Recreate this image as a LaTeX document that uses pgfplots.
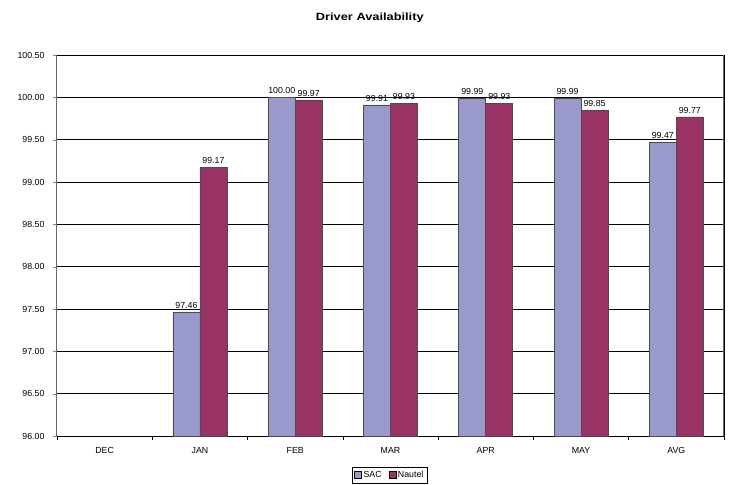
\documentclass[border=0pt]{standalone}
\usepackage{pgfplots}
\pgfplotsset{compat=1.18}
\usepackage{fontspec}
\setmainfont{Liberation Sans}
\newfontfamily\titlefont{Liberation Sans}[FakeStretch=1.22]
\definecolor{sac}{HTML}{9999CC}
\definecolor{nautel}{HTML}{993366}
\begin{document}
\begin{tikzpicture}[x=1pt,y=1pt]
\useasboundingbox (0,0) rectangle (732,485);
\begin{axis}[
  at={(57pt,49pt)}, anchor=south west,
  scale only axis, width=667pt, height=381pt,
  ybar, bar width=27pt,
  xmin=-0.5, xmax=6.5, ymin=96, ymax=100.5,
  xtick={0,...,6}, xticklabels={DEC,JAN,FEB,MAR,APR,MAY,AVG},
  major x tick style={draw=none},
  minor xtick={-0.5,0.5,...,6.5},
  minor x tick style={black, line width=0.5pt},
  ytick={96,96.5,...,100.5},
  ytick pos=left,
  yticklabel style={xshift=-5pt, /pgf/number format/.cd, fixed, fixed zerofill, precision=2},
  /pgf/number format/assume math mode=true,
  tick align=outside, major tick length=4pt, minor tick length=4pt,
  ymajorgrids, grid style={black, line width=0.6pt},
  axis line style={line width=0.6pt},
  axis x line*=bottom,
  separate axis lines,
  y axis line style={gray!80!black, line width=1pt},
  tick label style={font=\fontsize{8.8}{10}\selectfont},
  xticklabel style={yshift=-4pt},
  nodes near coords,
  nodes near coords style={font=\fontsize{8.8}{10}\selectfont, /pgf/number format/.cd, fixed, fixed zerofill, precision=2, assume math mode=true},
  legend style={at={(axis description cs:0.499,-0.102)}, anchor=center, legend columns=2, font=\fontsize{8.8}{10}\selectfont, draw=black, inner sep=2pt, /tikz/every even column/.append style={column sep=5pt}},
  legend image code/.code={\draw[#1, draw=black, line width=0.3pt] (0pt,-3.5pt) rectangle (7pt,3.5pt);},
  title={Driver Availability},
  title style={font=\titlefont\fontsize{10.5}{12}\selectfont\bfseries, at={(axis description cs:0.469,1.0)}, yshift=31pt, anchor=center},
  clip=false,
]
\addplot[fill=sac, draw=black!70, line width=0.6pt, bar shift=-13.5pt] coordinates {(1,97.46) (2,100.00) (3,99.91) (4,99.99) (5,99.99) (6,99.47)};
\addplot[fill=nautel, draw=black!70, line width=0.6pt, bar shift=13.5pt] coordinates {(1,99.17) (2,99.97) (3,99.93) (4,99.93) (5,99.85) (6,99.77)};
\legend{SAC,Nautel}
\draw[black, line width=0.6pt] (rel axis cs:1,0) -- (rel axis cs:1,1);
\end{axis}
\end{tikzpicture}
\end{document}
